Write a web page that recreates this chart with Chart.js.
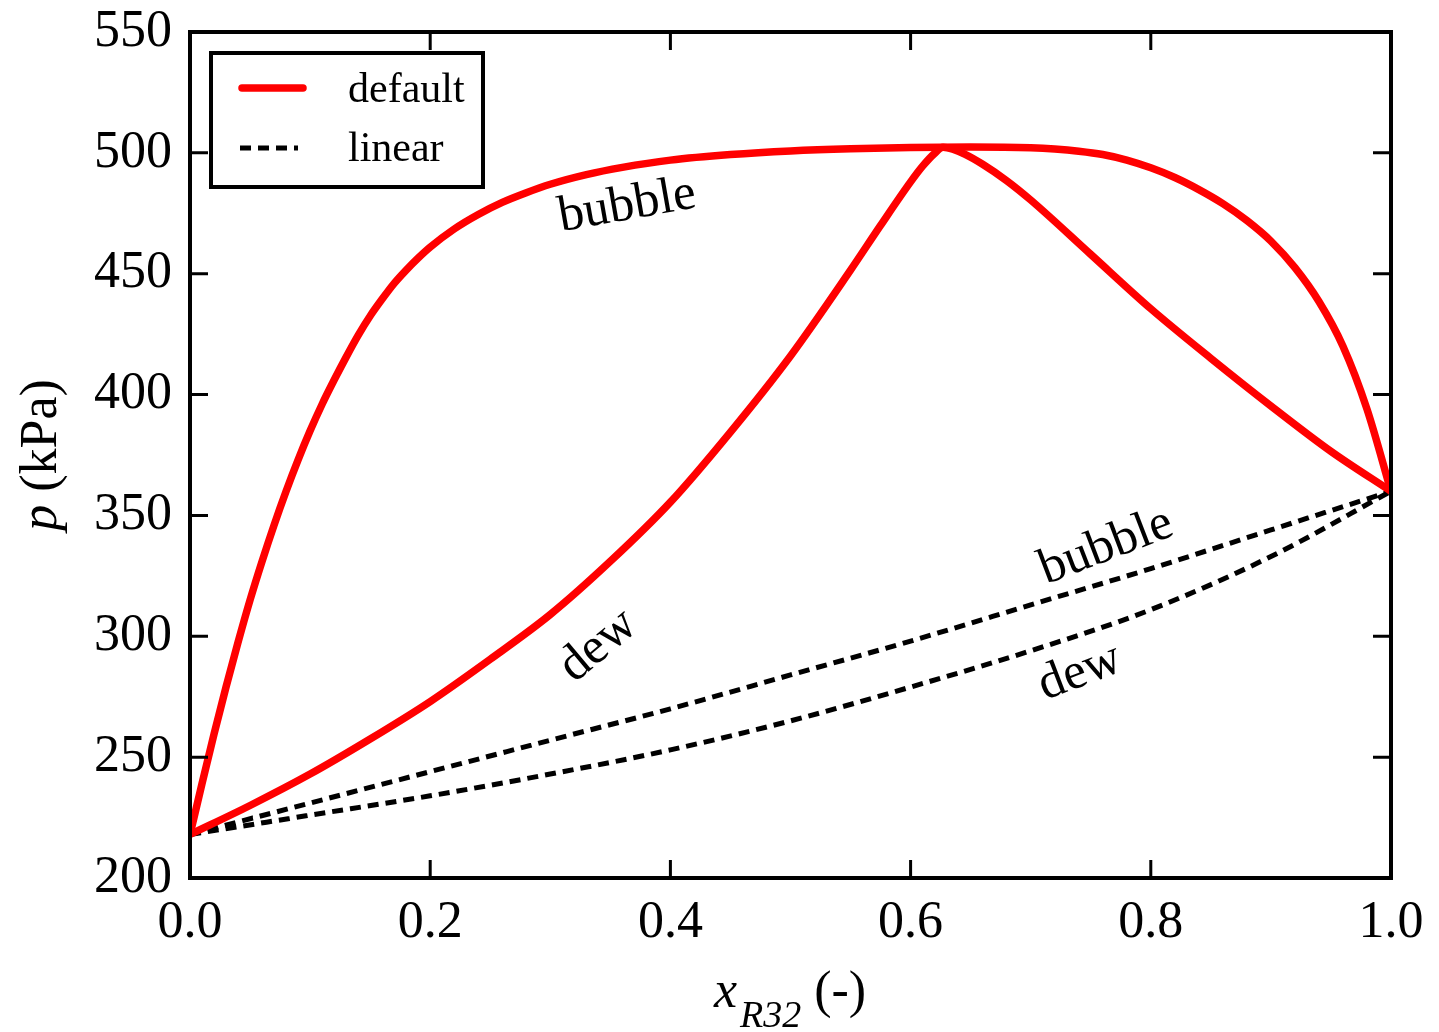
<!DOCTYPE html>
<html>
<head>
<meta charset="utf-8">
<script src="https://cdn.jsdelivr.net/npm/chart.js@4.4.1/dist/chart.umd.min.js"></script>
<style>
  body { margin: 0; background: #fff; }
  #wrap { width: 1439px; height: 1032px; }
</style>
</head>
<body>
<div id="wrap"><canvas id="pressureChart" width="1439" height="1032"></canvas></div>
<script>
// default model, bubble line (upper red)
const bubbleX = [0, 0.01, 0.02, 0.03, 0.04, 0.05, 0.06, 0.07, 0.08, 0.09,
  0.10, 0.11, 0.12, 0.13, 0.14, 0.15, 0.16, 0.17, 0.18, 0.19,
  0.20, 0.22, 0.24, 0.26, 0.28, 0.30, 0.33, 0.36, 0.40, 0.45,
  0.50, 0.55, 0.60, 0.65, 0.70, 0.72, 0.74, 0.76, 0.78, 0.80,
  0.82, 0.84, 0.86, 0.88, 0.90, 0.92, 0.94, 0.96, 0.98, 1.0];
const bubbleP = [218, 239, 259.5, 279, 297.5, 315, 331, 346, 360, 373,
  385, 396, 406, 415.5, 424.5, 432.5, 439.5, 446, 451.5, 456.5,
  461, 468.5, 474.5, 479.5, 483.5, 487, 491, 494, 497, 499.3,
  500.8, 501.7, 502.2, 502.4, 502.1, 501.6, 500.7, 499.3, 497, 493.8,
  489.8, 484.8, 479, 472, 463.5, 452.5, 438.5, 420, 394, 360];

// default model, dew line (lower red, azeotrope near 0.627)
const dewX = [0, 0.05, 0.10, 0.15, 0.20, 0.25, 0.30, 0.35, 0.40, 0.45,
  0.50, 0.55, 0.575, 0.60, 0.61, 0.62, 0.627, 0.635, 0.645, 0.66,
  0.68, 0.70, 0.75, 0.80, 0.85, 0.90, 0.95, 1.0];
const dewP = [218, 230, 243, 257.5, 273, 290.5, 309, 331, 355.5, 384.5,
  416, 451.5, 470, 488, 494.5, 499.8, 502.3, 501.5, 499.5, 495.3,
  488.5, 480.5, 458, 435.5, 415, 395.3, 376.5, 360];

// linear mixing rule
const linX = [0, 0.1, 0.2, 0.3, 0.4, 0.5, 0.6, 0.7, 0.8, 0.9, 1.0];
const linBubbleP = [218, 231, 244, 257, 270, 284, 298, 313, 328, 344, 360];
const linDewP = [218, 226, 234, 243, 253, 265, 279, 294, 311, 333, 360];

const xTicks = [0, 0.2, 0.4, 0.6, 0.8, 1.0];
const yTicks = [200, 250, 300, 350, 400, 450, 500, 550];

const serif = '"Liberation Serif", "Times New Roman", serif';

function pts(xs, ys) {
  return xs.map((v, i) => ({ x: v, y: ys[i] }));
}

// curve labels: [text, x, p, angle in degrees]
const curveLabels = [
  ['bubble', 0.364, 478, -10],
  ['dew', 0.34, 296, -40],
  ['bubble', 0.763, 337, -21],
  ['dew', 0.741, 285, -21]
];

const decorations = {
  id: 'decorations',
  beforeDraw(chart) {
    const ctx = chart.ctx;
    ctx.save();
    ctx.fillStyle = '#fff';
    ctx.fillRect(0, 0, chart.width, chart.height);
    ctx.restore();
  },
  afterDraw(chart) {
    const { ctx, chartArea: a, scales: { x, y } } = chart;
    ctx.save();
    ctx.strokeStyle = '#000';
    ctx.lineWidth = 3;
    ctx.beginPath();
    xTicks.forEach(v => {
      const px = x.getPixelForValue(v);
      ctx.moveTo(px, a.bottom); ctx.lineTo(px, a.bottom - 18);
      ctx.moveTo(px, a.top); ctx.lineTo(px, a.top + 18);
    });
    yTicks.forEach(v => {
      const py = y.getPixelForValue(v);
      ctx.moveTo(a.left, py); ctx.lineTo(a.left + 18, py);
      ctx.moveTo(a.right, py); ctx.lineTo(a.right - 18, py);
    });
    ctx.stroke();
    ctx.lineWidth = 4;
    ctx.strokeRect(a.left, a.top, a.right - a.left, a.bottom - a.top);

    // text on the curves
    ctx.fillStyle = '#000';
    ctx.font = '51px ' + serif;
    ctx.textAlign = 'center';
    ctx.textBaseline = 'middle';
    curveLabels.forEach(([t, vx, vp, ang]) => {
      ctx.save();
      ctx.translate(x.getPixelForValue(vx), y.getPixelForValue(vp));
      ctx.rotate(ang * Math.PI / 180);
      ctx.fillText(t, 0, 0);
      ctx.restore();
    });

    // legend box
    const lx = a.left + 21, ly = a.top + 21;
    ctx.lineWidth = 4;
    ctx.strokeRect(lx, ly, 272, 134);
    ctx.lineCap = 'round';
    ctx.strokeStyle = '#ff0000';
    ctx.lineWidth = 7.5;
    ctx.beginPath();
    ctx.moveTo(lx + 31, ly + 35); ctx.lineTo(lx + 92, ly + 35);
    ctx.stroke();
    ctx.lineCap = 'butt';
    ctx.strokeStyle = '#000';
    ctx.lineWidth = 5;
    ctx.setLineDash([11, 7]);
    ctx.beginPath();
    ctx.moveTo(lx + 29, ly + 95); ctx.lineTo(lx + 87, ly + 95);
    ctx.stroke();
    ctx.setLineDash([]);
    ctx.font = '42px ' + serif;
    ctx.textAlign = 'left';
    ctx.textBaseline = 'alphabetic';
    ctx.fillText('default', lx + 137, ly + 49);
    ctx.fillText('linear', lx + 137, ly + 108);

    // x axis title: x_R32 (-)
    const cx = (a.left + a.right) / 2;
    ctx.font = 'italic 52px ' + serif;
    const wX = ctx.measureText('x').width;
    ctx.font = 'italic 38px ' + serif;
    const wSub = ctx.measureText('R32').width;
    ctx.font = '52px ' + serif;
    const wP = ctx.measureText(' (-)').width;
    let sx = cx - (wX + wSub + wP) / 2 - 2;
    const base = 1007;
    ctx.font = 'italic 52px ' + serif;
    ctx.fillText('x', sx, base);
    sx += wX + 3;
    ctx.font = 'italic 38px ' + serif;
    ctx.fillText('R32', sx, base + 20);
    sx += wSub;
    ctx.font = '52px ' + serif;
    ctx.fillText(' (-)', sx, base);

    // y axis title: p (kPa)
    ctx.save();
    ctx.translate(56, (a.top + a.bottom) / 2);
    ctx.rotate(-Math.PI / 2);
    ctx.font = 'italic 52px ' + serif;
    const wp = ctx.measureText('p').width;
    ctx.font = '52px ' + serif;
    const wk = ctx.measureText(' (kPa)').width;
    const ty = -(wp + wk) / 2;
    ctx.font = 'italic 52px ' + serif;
    ctx.fillText('p', ty, 0);
    ctx.font = '52px ' + serif;
    ctx.fillText(' (kPa)', ty + wp, 0);
    ctx.restore();

    ctx.restore();
  }
};

const ctx = document.getElementById('pressureChart').getContext('2d');
const pressureChart = new Chart(ctx, {
  type: 'line',
  data: {
    datasets: [
      {
        label: 'default',
        data: pts(bubbleX, bubbleP),
        borderColor: '#ff0000',
        borderWidth: 7.5
      },
      {
        label: 'default dew',
        data: pts(dewX, dewP),
        borderColor: '#ff0000',
        borderWidth: 7.5
      },
      {
        label: 'linear',
        data: pts(linX, linBubbleP),
        borderColor: '#000',
        borderWidth: 5,
        borderDash: [11, 7]
      },
      {
        label: 'linear dew',
        data: pts(linX, linDewP),
        borderColor: '#000',
        borderWidth: 5,
        borderDash: [11, 7]
      }
    ]
  },
  options: {
    responsive: false,
    animation: false,
    devicePixelRatio: 1,
    cubicInterpolationMode: 'monotone',
    pointRadius: 0,
    layout: { padding: { top: 32, right: 48, left: 0, bottom: 0 } },
    plugins: {
      legend: { display: false },
      tooltip: { enabled: false }
    },
    scales: {
      x: {
        type: 'linear',
        min: 0,
        max: 1,
        grid: { display: false, drawTicks: false },
        border: { display: false },
        afterFit: s => {
          s.height = 154;
          s.paddingLeft = 0; s.paddingRight = 0;
        },
        afterBuildTicks: s => { s.ticks = xTicks.map(v => ({ value: v })); },
        ticks: {
          color: '#000',
          padding: 14,
          maxRotation: 0,
          font: { family: serif, size: 52 },
          callback: v => v.toFixed(1)
        }
      },
      y: {
        min: 200,
        max: 550,
        grid: { display: false, drawTicks: false },
        border: { display: false },
        afterFit: s => {
          s.width = 190;
          s.paddingTop = 0; s.paddingBottom = 0;
        },
        afterBuildTicks: s => { s.ticks = yTicks.map(v => ({ value: v })); },
        ticks: {
          color: '#000',
          padding: 18,
          font: { family: serif, size: 52 },
          callback: v => String(v)
        }
      }
    }
  },
  plugins: [decorations]
});
</script>
</body>
</html>
